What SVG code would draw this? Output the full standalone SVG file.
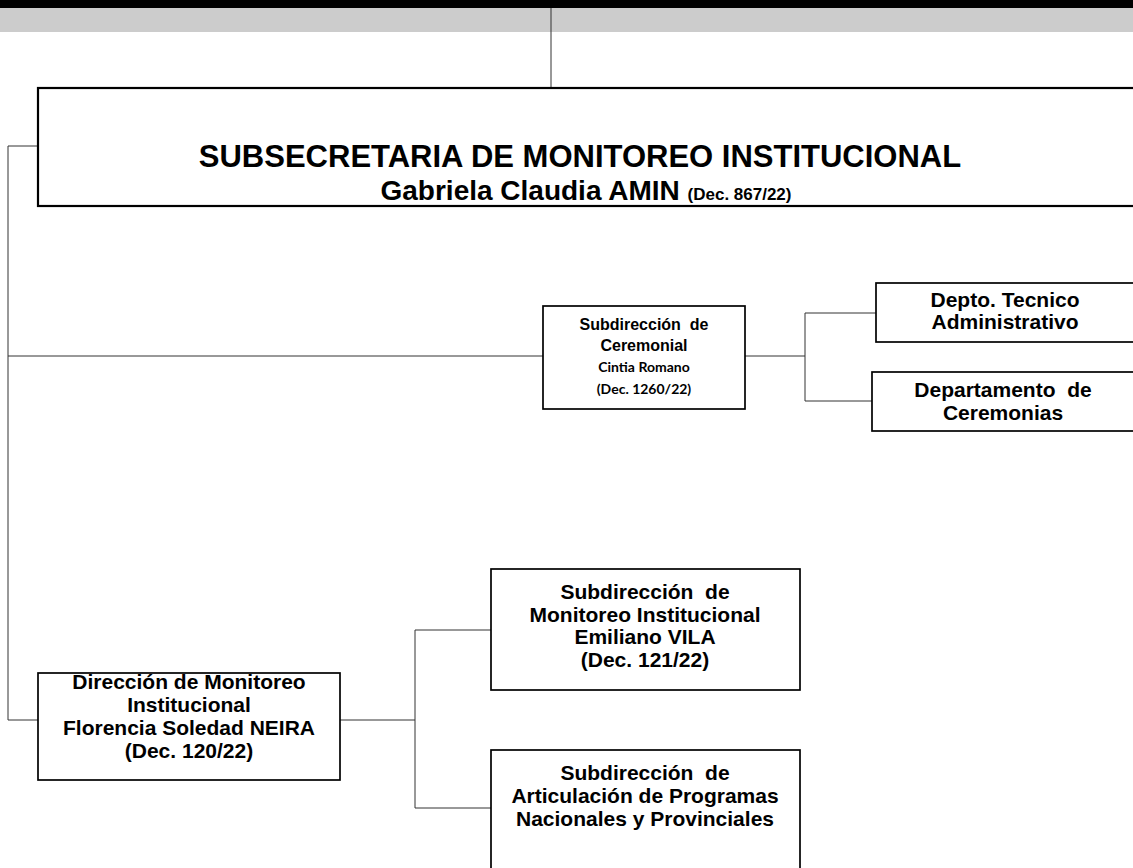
<svg xmlns="http://www.w3.org/2000/svg" width="1133" height="868" viewBox="0 0 1133 868">
<style>
.box{fill:#fff;stroke:#000;stroke-width:1.7}
.big{fill:#fff;stroke:#000;stroke-width:2.2}
text{font-family:"Liberation Sans",Arial,sans-serif;font-weight:bold;fill:#000;text-anchor:middle;white-space:pre}
.t{font-size:21px}
.s{font-size:16px}
.c{font-family:Lato,"Liberation Sans",sans-serif;font-size:14px}
.ln{fill:none;stroke:#333;stroke-width:1}
</style>
<rect x="0" y="0" width="1133" height="8" fill="#000"/>
<rect x="0" y="8" width="1133" height="24" fill="#cccccc"/>
<g id="connectors">
<path class="ln" d="M551 8V88"/>
<path class="ln" d="M38 146H8V720H38M8 356H543"/>
<path class="ln" d="M745 356H805M876 313H805V401H872"/>
<path class="ln" d="M340 720H415M491 630H415V808H491"/>
</g>
<g id="top">
<rect class="big" x="38" y="88" width="1110" height="118"/>
<text x="580" y="167" style="font-size:31px">SUBSECRETARIA DE MONITOREO INSTITUCIONAL</text>
<text x="586" y="200" style="font-size:28px">Gabriela Claudia AMIN <tspan style="font-size:17px">(Dec. 867/22)</tspan></text>
</g>
<g id="ceremonial">
<rect class="box" x="543" y="306" width="202" height="103"/>
<text class="s" x="644" y="330">Subdirección&#160; de</text>
<text class="s" x="644" y="351">Ceremonial</text>
<text class="c" x="644" y="372">Cintia Romano</text>
<text class="c" x="644" y="394">(Dec. 1260/22)</text>
</g>
<g id="depto-tecnico">
<rect class="box" x="876" y="283" width="270" height="59"/>
<text class="t" x="1005" y="307">Depto. Tecnico</text>
<text class="t" x="1005" y="329">Administrativo</text>
</g>
<g id="depto-ceremonias">
<rect class="box" x="872" y="372" width="274" height="59"/>
<text class="t" x="1003" y="397">Departamento&#160; de</text>
<text class="t" x="1003" y="420">Ceremonias</text>
</g>
<g id="direccion">
<rect class="box" x="38" y="673" width="302" height="107"/>
<text class="t" x="189" y="689">Dirección de Monitoreo</text>
<text class="t" x="189" y="712">Institucional</text>
<text class="t" x="189" y="735">Florencia Soledad NEIRA</text>
<text class="t" x="189" y="758">(Dec. 120/22)</text>
</g>
<g id="sub-monitoreo">
<rect class="box" x="491" y="569" width="309" height="121"/>
<text class="t" x="645" y="599">Subdirección&#160; de</text>
<text class="t" x="645" y="622">Monitoreo Institucional</text>
<text class="t" x="645" y="644">Emiliano VILA</text>
<text class="t" x="645" y="667">(Dec. 121/22)</text>
</g>
<g id="sub-articulacion">
<rect class="box" x="491" y="750" width="309" height="130"/>
<text class="t" x="645" y="780">Subdirección&#160; de</text>
<text class="t" x="645" y="803">Articulación de Programas</text>
<text class="t" x="645" y="826">Nacionales y Provinciales</text>
</g>
</svg>
